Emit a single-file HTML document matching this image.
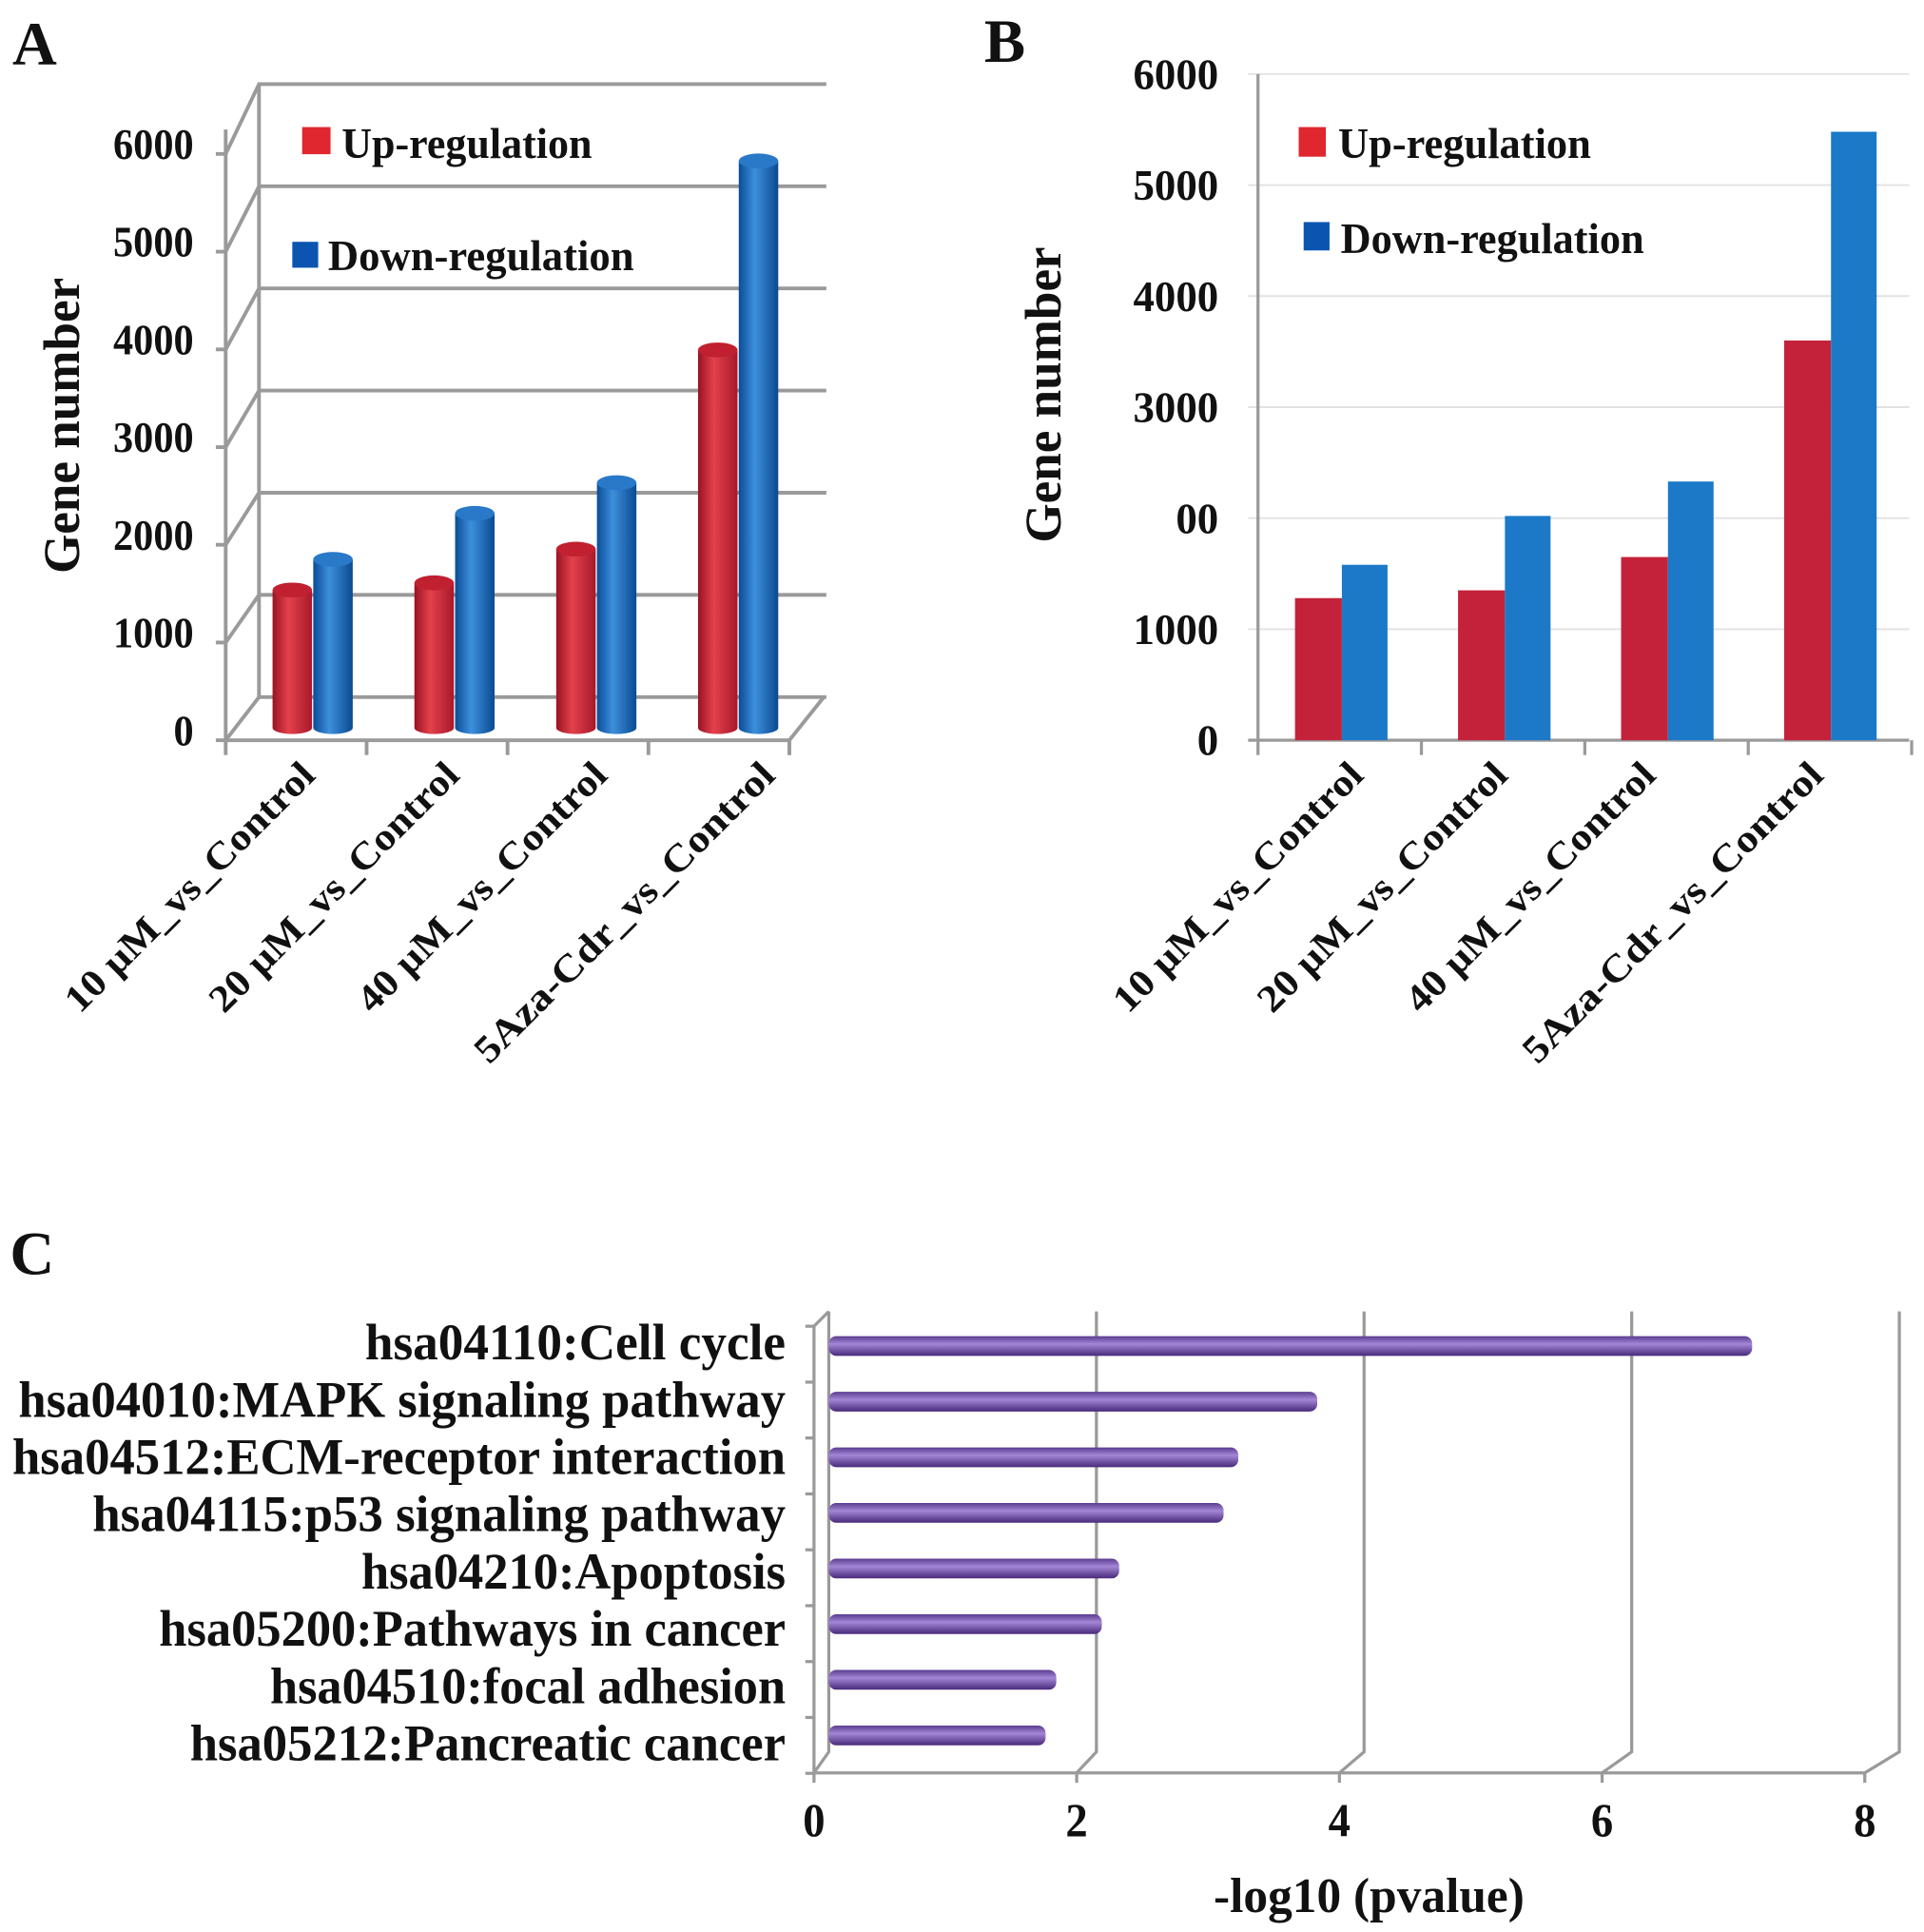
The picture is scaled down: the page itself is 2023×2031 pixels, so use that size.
<!DOCTYPE html>
<html><head><meta charset="utf-8"><style>
html,body{margin:0;padding:0;background:#fff;}
svg{display:block;}
text{font-family:"Liberation Serif",serif;font-weight:bold;fill:#111;}
</style></head><body>
<svg id="fig" width="2023" height="2031" viewBox="0 0 1560 1566" preserveAspectRatio="none" xmlns="http://www.w3.org/2000/svg">
<defs>
<linearGradient id="gRed" x1="0" x2="1" y1="0" y2="0"><stop offset="0" stop-color="#9a1222"/><stop offset="0.4" stop-color="#e3414c"/><stop offset="1" stop-color="#a8182a"/></linearGradient>
<linearGradient id="gBlue" x1="0" x2="1" y1="0" y2="0"><stop offset="0" stop-color="#0a4c96"/><stop offset="0.4" stop-color="#3d8fdc"/><stop offset="1" stop-color="#0b4a90"/></linearGradient>
<linearGradient id="gPur" x1="0" x2="0" y1="0" y2="1"><stop offset="0" stop-color="#5b3c8f"/><stop offset="0.4" stop-color="#a386d6"/><stop offset="1" stop-color="#48297a"/></linearGradient>
</defs>
<text x="10" y="52" font-size="50">A</text>
<text x="798" y="50" font-size="50">B</text>
<text x="8" y="1033" font-size="50">C</text>
<g id="pa"></g>
<g id="pb"></g>
<g id="pc"></g>
</svg>
<script>
const categories = ["10 µM_vs_Control","20 µM_vs_Control","40 µM_vs_Control","5Aza-Cdr_vs_Control"];
const upA = [1350, 1420, 1750, 3700];
const downA = [1650, 2100, 2400, 5550];
const upB = [1280, 1350, 1650, 3600];
const downB = [1580, 2020, 2330, 5480];
const yTicksA = [0,1000,2000,3000,4000,5000,6000];
const yTickLabelsB = ["0","1000","00","3000","4000","5000","6000"];
const pathways = ["hsa04110:Cell cycle","hsa04010:MAPK signaling pathway","hsa04512:ECM-receptor interaction","hsa04115:p53 signaling pathway","hsa04210:Apoptosis","hsa05200:Pathways in cancer","hsa04510:focal adhesion","hsa05212:Pancreatic cancer"];
const pvals = [6.9, 3.65, 3.06, 2.95, 2.17, 2.04, 1.70, 1.62];
const xTicksC = [0,2,4,6,8];

const NS="http://www.w3.org/2000/svg";
function mk(parent,tag,attrs,txt){const e=document.createElementNS(NS,tag);for(const k in attrs)e.setAttribute(k,attrs[k]);if(txt!==undefined)e.textContent=txt;parent.appendChild(e);return e;}

// ---------- Panel A ----------
const pa=document.getElementById('pa');
const yFrontA=v=>600-v*0.0792;
const yBackA=v=>565-v*0.0828;
const yBarA=v=>590-v*0.0828;
yTicksA.forEach(v=>{
  let l=mk(pa,'path',{d:`M175 ${yFrontA(v)} L183 ${yFrontA(v)} L210 ${yBackA(v)} L670 ${yBackA(v)}`,stroke:'#9a9a9a','stroke-width':3,fill:'none'});
  
  
  const s=String(v);
  let t=mk(pa,'text',{x:157,y:yFrontA(v)+4,'font-size':35,'text-anchor':'end',textLength:s.length*16.3,lengthAdjust:'spacingAndGlyphs'},s);
  
  
});
mk(pa,'path',{d:'M183 600 L183 105 M210 565 L210 68 M183 600 L640 600 L668 565 M640 600 L640 612',stroke:'#9a9a9a','stroke-width':3,fill:'none'});
const cxA=i=>237+i*115;
for(let i=0;i<=4;i++){mk(pa,'line',{x1:183+i*114.25,y1:600,x2:183+i*114.25,y2:612,stroke:'#9a9a9a','stroke-width':3});}
function cylV(g,cx,top,bot,w,fill,cap,name){
  const grp=mk(g,'g',{});
  
  
  mk(grp,'rect',{x:cx-w/2,y:top,width:w,height:bot-top,fill:fill});
  mk(grp,'ellipse',{cx:cx,cy:bot,rx:w/2,ry:5,fill:fill});
  mk(grp,'ellipse',{cx:cx,cy:top,rx:w/2,ry:6,fill:cap});
}
const catLen=[272,272,272,330];
categories.forEach((c,i)=>{
  cylV(pa,cxA(i),yBarA(upA[i]),590,32,'url(#gRed)','#c02030','bar-a-up-'+i);
  cylV(pa,cxA(i)+33,yBarA(downA[i]),590,32,'url(#gBlue)','#2a78c8','bar-a-down-'+i);
  let t=mk(pa,'text',{x:0,y:0,'font-size':31,'text-anchor':'end',textLength:catLen[i],lengthAdjust:'spacingAndGlyphs',transform:`translate(${[257,374,494,630][i]},${630}) rotate(-45)`},c);
  
  
});
mk(pa,'rect',{x:245,y:103,width:23,height:22,fill:'#e0262e'});
mk(pa,'text',{x:277,y:128,'font-size':35,textLength:203,lengthAdjust:'spacingAndGlyphs'},'Up-regulation');
mk(pa,'rect',{x:237,y:196,width:21,height:21,fill:'#0b55b0'});
mk(pa,'text',{x:266,y:219,'font-size':35,textLength:248,lengthAdjust:'spacingAndGlyphs'},'Down-regulation');
mk(pa,'text',{x:0,y:0,'font-size':42,'text-anchor':'middle',textLength:240,lengthAdjust:'spacingAndGlyphs',transform:'translate(64,345) rotate(-90)',},'Gene number');

// ---------- Panel B ----------
const pb=document.getElementById('pb');
const yB=v=>600-v*0.09;
yTickLabelsB.forEach((lab,i)=>{
  const v=i*1000;
  mk(pb,'line',{x1:1012,y1:yB(v),x2:1548,y2:yB(v),stroke:v===0?'#9a9a9a':'#e2e2e2','stroke-width':v===0?2.5:1.5});
  let t=mk(pb,'text',{x:988,y:yB(v)+12,'font-size':35,'text-anchor':'end',textLength:lab.length*17.3,lengthAdjust:'spacingAndGlyphs'},lab);
  
  
});
mk(pb,'line',{x1:1020,y1:60,x2:1020,y2:612,stroke:'#9a9a9a','stroke-width':2.5});
for(let i=1;i<=4;i++){mk(pb,'line',{x1:1020+i*132.5,y1:600,x2:1020+i*132.5,y2:612,stroke:'#9a9a9a','stroke-width':2.5});}
categories.forEach((c,i)=>{
  const x0=1050+i*132.2;
  let r=mk(pb,'rect',{x:x0,y:yB(upB[i]),width:38,height:600-yB(upB[i]),fill:'#c4223a'});
  
  
  let b=mk(pb,'rect',{x:x0+38,y:yB(downB[i]),width:37,height:600-yB(downB[i]),fill:'#1b79c8'});
  
  
  let t=mk(pb,'text',{x:0,y:0,'font-size':31,'text-anchor':'end',textLength:catLen[i],lengthAdjust:'spacingAndGlyphs',transform:`translate(${[1107,1224,1344,1480][i]},${630}) rotate(-45)`},c);
  
  
});
mk(pb,'rect',{x:1053,y:103,width:22,height:24,fill:'#e0262e'});
mk(pb,'text',{x:1085,y:128,'font-size':35,textLength:205,lengthAdjust:'spacingAndGlyphs'},'Up-regulation');
mk(pb,'rect',{x:1057,y:180,width:21,height:23,fill:'#0b55b0'});
mk(pb,'text',{x:1087,y:205,'font-size':35,textLength:246,lengthAdjust:'spacingAndGlyphs'},'Down-regulation');
mk(pb,'text',{x:0,y:0,'font-size':42,'text-anchor':'middle',textLength:240,lengthAdjust:'spacingAndGlyphs',transform:'translate(860,320) rotate(-90)',},'Gene number');

// ---------- Panel C ----------
const pc=document.getElementById('pc');
const xBack=v=>672+v*108.5;
const xFront=v=>660+v*106.5;
xTicksC.forEach(v=>{
  let l=mk(pc,'path',{d:`M${xFront(v)} 1445 L${xFront(v)} 1437 L${xBack(v)} 1420 L${xBack(v)} 1063`,stroke:'#9a9a9a','stroke-width':2.5,fill:'none'});
  
  
  let t=mk(pc,'text',{x:xFront(v),y:1488,'font-size':38,'text-anchor':'middle',textLength:18,lengthAdjust:'spacingAndGlyphs'},String(v));
  
  
});
mk(pc,'path',{d:'M660 1437 L1512 1437 M660 1437 L660 1075 L672 1063',stroke:'#9a9a9a','stroke-width':2.5,fill:'none'});
for(let i=0;i<=8;i++){const y=1075+i*45.3;mk(pc,'line',{x1:653,y1:y,x2:660,y2:y,stroke:'#9a9a9a','stroke-width':2.5});}
const yC=i=>1091+i*45.1;
const labW=[341,622,627,562,344,508,418,483];
pathways.forEach((p,i)=>{
  const x1=xBack(pvals[i]);
  let r=mk(pc,'rect',{x:672,y:yC(i)-8,width:x1-672,height:16,rx:6,fill:'url(#gPur)'});
  
  
  let t=mk(pc,'text',{x:637,y:yC(i)+11+i*1.3,'font-size':42,'text-anchor':'end',textLength:labW[i],lengthAdjust:'spacingAndGlyphs'},p);
  
  
});
mk(pc,'text',{x:1110,y:1550,'font-size':40,'text-anchor':'middle',textLength:252,lengthAdjust:'spacingAndGlyphs',},'-log10 (pvalue)');
</script>
</body></html>
